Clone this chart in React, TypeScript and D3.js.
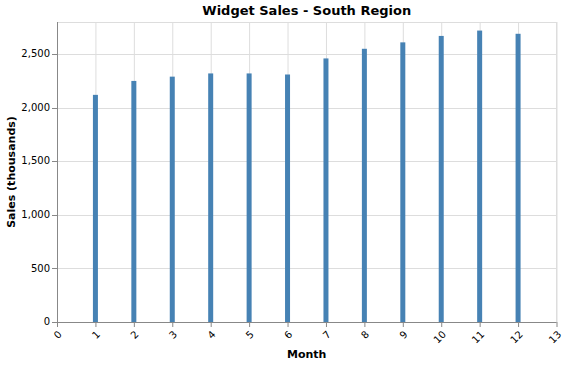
import React from "react";
import * as d3 from "d3";

const months = [1, 2, 3, 4, 5, 6, 7, 8, 9, 10, 11, 12];
const sales = [2120, 2250, 2290, 2320, 2320, 2310, 2460, 2550, 2610, 2670, 2720, 2690];
const xTicks = [0, 1, 2, 3, 4, 5, 6, 7, 8, 9, 10, 11, 12, 13];
const yTicks = [0, 500, 1000, 1500, 2000, 2500];

const W = 569, H = 366;
const L = 57, R = 556.5, T = 22, B = 322;
const font = "DejaVu Sans, sans-serif";

export default function App() {
  const x = d3.scaleLinear().domain([0, 13]).range([L, R]);
  const y = d3.scaleLinear().domain([0, 2800]).range([B, T]);
  const fmt = d3.format(",");
  const cx = (L + R) / 2;
  return (
    <svg width={W} height={H} style={{ position: "absolute", left: 0, top: 0 }} fontFamily={font}>
      <rect x={0} y={0} width={W} height={H} fill="#fff" />
      {xTicks.map((t) => (
        <line key={"gx" + t} x1={x(t) + 0.5} x2={x(t) + 0.5} y1={T} y2={B} stroke="#ddd" />
      ))}
      {yTicks.map((t) => (
        <line key={"gy" + t} x1={L} x2={R} y1={Math.round(y(t)) + 0.5} y2={Math.round(y(t)) + 0.5} stroke="#ddd" />
      ))}
      <line x1={R} x2={R} y1={T} y2={B} stroke="#ddd" />
      <line x1={L} x2={R} y1={T + 0.5} y2={T + 0.5} stroke="#ddd" />
      {months.map((m, i) => (
        <rect key={"b" + m} x={x(m) - 2.5} y={y(sales[i])} width={5} height={B - y(sales[i])} fill="#4682b4" />
      ))}
      <line x1={L} x2={R} y1={B + 0.5} y2={B + 0.5} stroke="#888" />
      <line x1={L + 0.5} x2={L + 0.5} y1={T} y2={B} stroke="#888" />
      {xTicks.map((t) => (
        <g key={"xt" + t}>
          <line x1={x(t) + 0.5} x2={x(t) + 0.5} y1={B} y2={B + 5} stroke="#888" />
          <text
            transform={`translate(${x(t) + 0.5},${B + 8}) rotate(-45)`}
            textAnchor="end"
            dy="0.7em"
            fontSize={10}
            fill="#000"
          >
            {t}
          </text>
        </g>
      ))}
      {yTicks.map((t) => (
        <g key={"yt" + t}>
          <line x1={L - 5} x2={L} y1={Math.round(y(t)) + 0.5} y2={Math.round(y(t)) + 0.5} stroke="#888" />
          <text x={L - 7} y={y(t)} dy="0.32em" textAnchor="end" fontSize={10} fill="#000">
            {fmt(t)}
          </text>
        </g>
      ))}
      <text x={cx} y={15} textAnchor="middle" fontSize={13} fontWeight="bold" fill="#000">
        Widget Sales - South Region
      </text>
      <text x={cx} y={358} textAnchor="middle" fontSize={11} fontWeight="bold" fill="#000">
        Month
      </text>
      <text transform={`translate(15,${(T + B) / 2}) rotate(-90)`} textAnchor="middle" fontSize={11} fontWeight="bold" fill="#000">
        Sales (thousands)
      </text>
    </svg>
  );
}
